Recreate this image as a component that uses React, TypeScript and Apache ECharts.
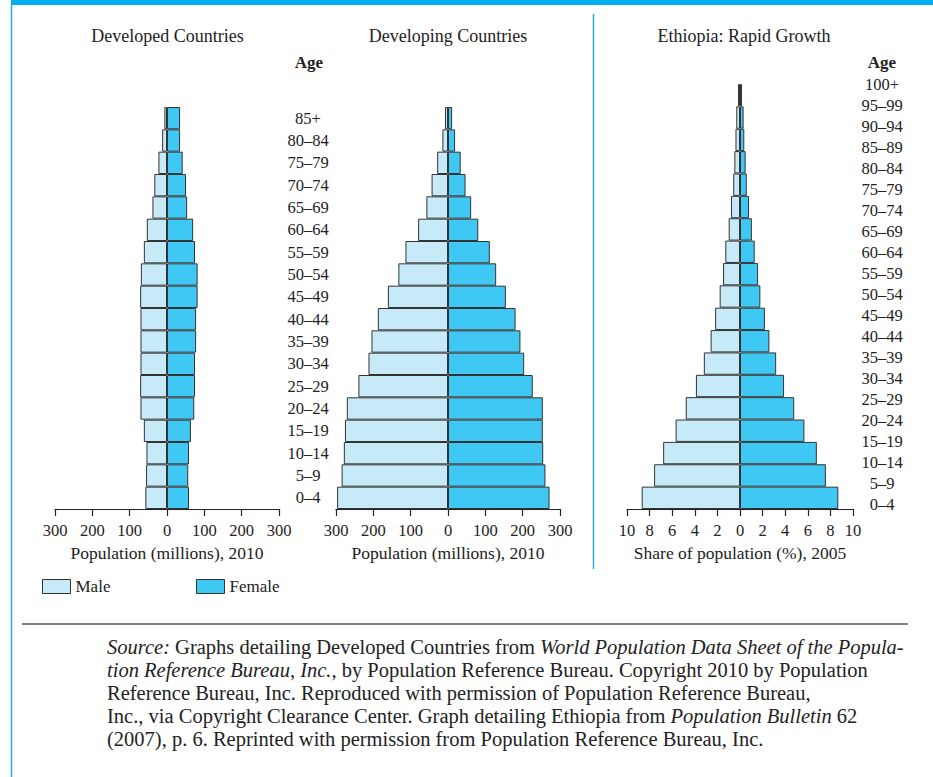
import React, { useEffect, useRef } from "react";
import * as echarts from "echarts";

// ---------- data ----------
const ageGroups = ["0–4", "5–9", "10–14", "15–19", "20–24", "25–29", "30–34", "35–39", "40–44", "45–49", "50–54", "55–59", "60–64", "65–69", "70–74", "75–79", "80–84", "85+"];
const developedMale = [58, 56, 55, 62, 71, 72, 71, 71, 71, 72, 70, 62, 54, 39, 34, 23, 13, 7];
const developedFemale = [59, 57, 59, 64, 73, 75, 75, 78, 78, 82, 82, 75, 70, 54, 51, 42, 35, 35];
const developingMale = [297, 285, 279, 276, 271, 240, 213, 205, 188, 161, 133, 114, 80, 58, 44, 29, 15, 8];
const developingFemale = [272, 261, 255, 254, 254, 227, 204, 194, 181, 155, 129, 112, 81, 62, 47, 34, 19, 11];

const ethiopiaBarGroups = ["0–4", "5–9", "10–14", "15–19", "20–24", "25–29", "30–34", "35–39", "40–44", "45–49", "50–54", "55–59", "60–64", "65–69", "70–74", "75–79", "80–84", "85–89", "90+"];
const ethiopiaMale = [8.7, 7.6, 6.8, 5.7, 4.8, 3.9, 3.2, 2.6, 2.2, 1.8, 1.5, 1.3, 1.0, 0.8, 0.6, 0.5, 0.4, 0.33, 0.18];
const ethiopiaFemale = [8.7, 7.6, 6.8, 5.7, 4.8, 3.9, 3.2, 2.6, 2.2, 1.8, 1.6, 1.3, 1.05, 0.8, 0.6, 0.5, 0.38, 0.32, 0.18];
const ethiopiaAgeLabels = ["0–4", "5–9", "10–14", "15–19", "20–24", "25–29", "30–34", "35–39", "40–44", "45–49", "50–54", "55–59", "60–64", "65–69", "70–74", "75–79", "80–84", "85–89", "90–94", "95–99", "100+"];

const chartTitles = ["Developed Countries", "Developing Countries", "Ethiopia: Rapid Growth"];
const axisTitles = ["Population (millions), 2010", "Population (millions), 2010", "Share of population (%), 2005"];

const sourceLines = [
  "{i|Source:} Graphs detailing Developed Countries from {i|World Population Data Sheet of the Popula-}",
  "{i|tion Reference Bureau, Inc.,} by Population Reference Bureau. Copyright 2010 by Population",
  "Reference Bureau, Inc. Reproduced with permission of Population Reference Bureau,",
  "Inc., via Copyright Clearance Center. Graph detailing Ethiopia from {i|Population Bulletin} 62",
  "(2007), p. 6. Reprinted with permission from Population Reference Bureau, Inc.",
];

// ---------- styles ----------
const FONT = '"Liberation Serif", "Times New Roman", serif';
const TEXT = "#222";
const MALE = "#c6eaf8";
const FEMALE = "#40c8f4";
const BORDER = "#333";
const FRAME_BLUE = "#00aeef";
const SOURCE_SIZE = 20.5;

function valueAxis(gridIndex: number, max: number, interval: number, name: string) {
  return {
    type: "value",
    gridIndex,
    min: -max,
    max,
    interval,
    name,
    nameLocation: "middle",
    nameGap: 30,
    nameTextStyle: { fontFamily: FONT, fontSize: 17.5, color: TEXT },
    axisLine: { show: true, lineStyle: { color: "#222", width: 1.2 } },
    axisTick: { show: true, length: 7, lineStyle: { color: "#222", width: 1.2 } },
    axisLabel: {
      fontFamily: FONT,
      fontSize: 16.5,
      color: TEXT,
      margin: 13,
      formatter: (v: number) => String(Math.abs(v)),
    },
    splitLine: { show: false },
  };
}

function barSeries(name: string, color: string, x: number, data: number[], sign: number) {
  return {
    name,
    type: "bar",
    xAxisIndex: x,
    yAxisIndex: x,
    data: data.map((v) => sign * v),
    barGap: "-100%",
    barCategoryGap: "0%",
    itemStyle: { color, borderColor: BORDER, borderWidth: 1 },
    emphasis: { disabled: true },
  };
}

export default function App() {
  const ref = useRef<HTMLDivElement>(null);

  useEffect(() => {
    if (!ref.current) return;
    const chart = echarts.init(ref.current, undefined, { renderer: "svg" });

    const hiddenCat = (gridIndex: number, data: string[]) => ({
      type: "category",
      gridIndex,
      data,
      axisLine: { show: false },
      axisTick: { show: false },
      axisLabel: { show: false },
      splitLine: { show: false },
    });

    const graphic: any[] = [
      { type: "rect", shape: { x: 11, y: 0, width: 922, height: 5 }, style: { fill: FRAME_BLUE }, silent: true },
      { type: "line", shape: { x1: 11.5, y1: 5, x2: 11.5, y2: 777 }, style: { stroke: "#29abe2", lineWidth: 1.5 }, silent: true },
      { type: "line", shape: { x1: 593.5, y1: 14, x2: 593.5, y2: 569 }, style: { stroke: "#29abe2", lineWidth: 1.5 }, silent: true },
      { type: "line", shape: { x1: 22, y1: 624, x2: 908, y2: 624 }, style: { stroke: "#555", lineWidth: 1.5 }, silent: true },
    ];
    const titleX = [167.5, 448, 744];
    chartTitles.forEach((t, i) => {
      graphic.push({
        type: "text",
        x: titleX[i],
        y: 36,
        style: { text: t, fontFamily: FONT, fontSize: 18, fill: TEXT, align: "center", verticalAlign: "middle" },
      });
    });
    [309, 882].forEach((x) => {
      graphic.push({
        type: "text",
        x,
        y: 62,
        style: { text: "Age", fontFamily: FONT, fontSize: 17, fontWeight: "bold", fill: TEXT, align: "center", verticalAlign: "middle" },
      });
    });
    sourceLines.forEach((line, i) => {
      graphic.push({
        type: "text",
        x: 107,
        y: 647 + i * 23,
        style: {
          text: line,
          fontFamily: FONT,
          fontSize: SOURCE_SIZE,
          fill: TEXT,
          align: "left",
          verticalAlign: "middle",
          rich: {
            i: { fontFamily: FONT, fontSize: SOURCE_SIZE, fontStyle: "italic", fill: TEXT },
          },
        },
      });
    });

    const legendBase = {
      top: 578,
      padding: 0,
      itemWidth: 28,
      itemHeight: 14,
      icon: "rect",
      itemStyle: { borderColor: BORDER, borderWidth: 1 },
      textStyle: { fontFamily: FONT, fontSize: 17, color: TEXT },
      selectedMode: false,
      itemGap: 5,
    };

    chart.setOption({
      animation: false,
      backgroundColor: "#fff",
      textStyle: { fontFamily: FONT },
      legend: [
        { ...legendBase, left: 42, data: ["Male"] },
        { ...legendBase, left: 196, data: ["Female"] },
      ],
      grid: [
        { left: 55, top: 107, width: 224, height: 402 },
        { left: 336, top: 107, width: 224, height: 402 },
        { left: 627, top: 84, width: 226, height: 425 },
        { left: 853, top: 84, width: 1, height: 420 },
      ],
      xAxis: [
        valueAxis(0, 300, 100, axisTitles[0]),
        valueAxis(1, 300, 100, axisTitles[1]),
        valueAxis(2, 10, 2, axisTitles[2]),
        { type: "value", gridIndex: 3, show: false, min: 0, max: 1 },
      ],
      yAxis: [
        {
          type: "category",
          gridIndex: 0,
          data: ageGroups,
          position: "right",
          axisLine: { show: false },
          axisTick: { show: false },
          splitLine: { show: false },
          axisLabel: { show: true, interval: 0, align: "center", margin: 29, fontFamily: FONT, fontSize: 16.5, color: TEXT },
        },
        hiddenCat(1, ageGroups),
        hiddenCat(2, ethiopiaBarGroups),
        {
          type: "category",
          gridIndex: 3,
          data: ethiopiaAgeLabels,
          boundaryGap: false,
          position: "right",
          axisLine: { show: false },
          axisTick: { show: false },
          splitLine: { show: false },
          axisLabel: { show: true, interval: 0, align: "center", margin: 28, fontFamily: FONT, fontSize: 16.5, color: TEXT },
        },
      ],
      series: [
        barSeries("Male", MALE, 0, developedMale, -1),
        barSeries("Female", FEMALE, 0, developedFemale, 1),
        barSeries("Male", MALE, 1, developingMale, -1),
        barSeries("Female", FEMALE, 1, developingFemale, 1),
        barSeries("Male", MALE, 2, ethiopiaMale, -1),
        barSeries("Female", FEMALE, 2, ethiopiaFemale, 1),
      ],
      graphic,
    });

    return () => chart.dispose();
  }, []);

  return (
    <div
      ref={ref}
      style={{ position: "fixed", left: 0, top: 0, width: 933, height: 777, background: "#fff" }}
    />
  );
}
